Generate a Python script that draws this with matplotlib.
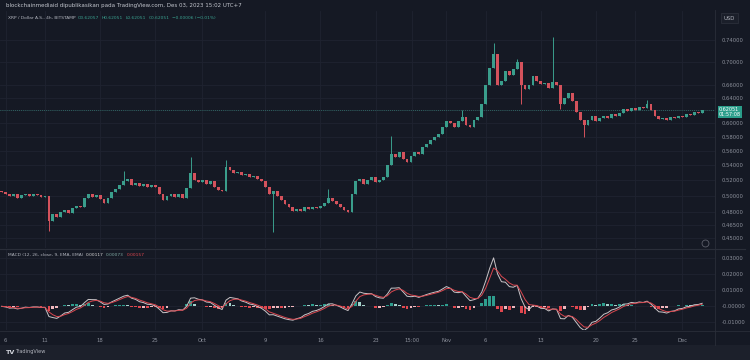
import numpy as np
import pandas as pd
import matplotlib
matplotlib.use("Agg")
import matplotlib.pyplot as plt
import matplotlib.dates as mdates
from matplotlib.lines import Line2D
from matplotlib.patches import Rectangle

# ---------------- data (12h candles) ----------------
start_time = "2023-09-05 12:00"
first_open = 0.506
closes = [
    0.505, 0.503, 0.500, 0.502, 0.498, 0.501, 0.503, 0.500, 0.502, 0.501, 0.499, 0.500,
    0.470,
    0.478, 0.474, 0.480, 0.483, 0.479, 0.485, 0.488, 0.486,
    0.497, 0.503,
    0.499, 0.501, 0.496, 0.492,
    0.498, 0.505, 0.509, 0.514, 0.519, 0.522,
    0.514, 0.517, 0.513, 0.515, 0.512, 0.514, 0.511,
    0.503, 0.495,
    0.500, 0.503, 0.499, 0.502, 0.498,
    0.510, 0.530,
    0.521, 0.518, 0.520, 0.516, 0.519,
    0.512, 0.508, 0.506,
    0.538,
    0.534, 0.530, 0.531, 0.527, 0.528, 0.525, 0.526, 0.522, 0.519,
    0.512, 0.503,
    0.507,
    0.500, 0.495, 0.490, 0.486, 0.482,
    0.484, 0.482, 0.486, 0.484, 0.487, 0.485, 0.488,
    0.492, 0.497, 0.494,
    0.490, 0.487, 0.483, 0.480,
    0.503, 0.519,
    0.522, 0.516, 0.520, 0.524, 0.518, 0.521,
    0.524, 0.540, 0.556, 0.552, 0.558, 0.549, 0.545, 0.553, 0.558, 0.556, 0.565, 0.570,
    0.575, 0.580, 0.585,
    0.595, 0.604, 0.600, 0.595, 0.603, 0.610, 0.598, 0.594, 0.605, 0.610,
    0.630, 0.660, 0.690, 0.715,
    0.660, 0.668, 0.685, 0.678, 0.688, 0.700,
    0.660, 0.655, 0.660, 0.676,
    0.668, 0.662, 0.664, 0.656, 0.665, 0.660,
    0.630, 0.640, 0.648, 0.635, 0.618, 0.605,
    0.598, 0.605, 0.612, 0.603, 0.608, 0.612, 0.609, 0.614, 0.612, 0.616,
    0.622, 0.619, 0.624, 0.621, 0.626, 0.624, 0.630,
    0.620, 0.612, 0.606, 0.609, 0.605,
    0.610, 0.608, 0.612, 0.610, 0.614, 0.613, 0.617, 0.616, 0.620,
]
spike_high_idx = [31, 48, 57, 83, 99, 117, 125, 131, 140, 164]
spike_high_val = [0.532, 0.552, 0.548, 0.509, 0.581, 0.620, 0.735, 0.705, 0.745, 0.636]
spike_low_idx = [12, 69, 132, 142, 148]
spike_low_val = [0.458, 0.457, 0.630, 0.622, 0.580]

price_ticks = [0.74, 0.70, 0.66, 0.64, 0.62, 0.60, 0.58, 0.56, 0.54, 0.52, 0.50, 0.48, 0.465, 0.45]
price_tick_labels = ["0.74000", "0.70000", "0.66000", "0.64000", "", "0.60000", "0.58000",
                     "0.56000", "0.54000", "0.52000", "0.50000", "0.48000", "0.46500", "0.45000"]
macd_ticks = [0.03, 0.02, 0.01, 0.0, -0.01]
macd_tick_labels = ["0.03000", "0.02000", "0.01000", "-0.00000", "-0.01000"]
date_ticks = ["2023-09-06 00:00", "2023-09-11 00:00", "2023-09-18 00:00", "2023-09-25 00:00",
              "2023-10-01 00:00", "2023-10-09 00:00", "2023-10-16 00:00", "2023-10-23 00:00",
              "2023-10-27 15:00", "2023-11-01 00:00", "2023-11-06 00:00", "2023-11-13 00:00",
              "2023-11-20 00:00", "2023-11-25 00:00", "2023-12-01 00:00"]
date_tick_labels = ["6", "11", "18", "25", "Oct", "9", "16", "23", "15:00", "Nov", "6", "13", "20", "25", "Dec"]

# ---------------- derived ----------------
closes_a = np.array(closes)
opens_a = np.concatenate([[first_open], closes_a[:-1]])
highs_a = np.maximum(opens_a, closes_a)
lows_a = np.minimum(opens_a, closes_a)
for i, v in zip(spike_high_idx, spike_high_val):
    highs_a[i] = max(highs_a[i], v)
for i, v in zip(spike_low_idx, spike_low_val):
    lows_a[i] = min(lows_a[i], v)
times = pd.date_range(start_time, periods=len(closes), freq="12h")
xs = mdates.date2num(times)
tick_x = mdates.date2num(pd.to_datetime(date_ticks, format="%Y-%m-%d %H:%M"))

s = pd.Series(closes_a)
fast = s.ewm(span=12 / 3, adjust=False).mean()
slow = s.ewm(span=26 / 3, adjust=False).mean()
macd = (fast - slow).values
signal = pd.Series(macd).ewm(span=9 / 3, adjust=False).mean().values
hist = macd - signal

# ---------------- style ----------------
BG = "#151924"
GRID = "#1f2330"
TXT = "#8c909b"
UP = "#3a9e8c"
DN = "#d4525c"
FS = 3.8
FS_LEG = 3.2

W, H = 750, 360
plt.rcParams["font.family"] = ["DejaVu Sans"]
fig = plt.figure(figsize=(7.5, 3.6), dpi=100, facecolor=BG)

def fx(px):
    return px / W

def fy(py):
    return 1 - py / H

fig.add_artist(Rectangle((0, 0), 1, fy(345), transform=fig.transFigure, fc="#1c202b", ec="none", zorder=0))

ax = fig.add_axes([0, fy(248), fx(715), (248 - 11) / H], facecolor=BG)
ax2 = fig.add_axes([0, fy(330), fx(715), (330 - 249) / H], facecolor=BG)

xmin = mdates.date2num(pd.Timestamp("2023-09-05 06:46"))
xmax = mdates.date2num(pd.Timestamp("2023-12-05 03:10"))

# candles
col = np.where(closes_a >= opens_a, UP, DN)
ax.vlines(xs, lows_a, highs_a, colors=col, lw=0.7, zorder=3)
body_h = np.maximum(np.abs(closes_a - opens_a), 0.0008)
ax.bar(xs, body_h, bottom=np.minimum(opens_a, closes_a), width=0.36, color=col, lw=0, zorder=4)
ax.axhline(closes_a[-1], color=UP, lw=0.5, ls=(0, (1, 2)), zorder=2)

ax.set_yscale("log")
ax.set_ylim(0.4389, 0.7957)
ax.set_xlim(xmin, xmax)
ax.yaxis.tick_right()
ax.set_yticks(price_ticks)
ax.set_yticklabels(price_tick_labels)
ax.yaxis.set_minor_locator(matplotlib.ticker.NullLocator())
ax.tick_params(axis="y", which="both", length=0, pad=5, labelsize=FS, labelcolor=TXT)
ax.set_xticks(tick_x)
ax.tick_params(axis="x", length=0, labelbottom=False)
ax.grid(True, color=GRID, lw=0.6)
for sp in ax.spines.values():
    sp.set_visible(False)

# MACD
hist_col = []
for i, h in enumerate(hist):
    prev = hist[i - 1] if i > 0 else 0
    if h >= 0:
        hist_col.append("#2e9e8e" if h >= prev else "#a5d2cb")
    else:
        hist_col.append("#e0474f" if h <= prev else "#f0b7bd")
ax2.bar(xs, hist, width=0.36, color=hist_col, lw=0, zorder=3)
ax2.plot(xs, macd, color="#c9c5c8", lw=0.7, zorder=4)
ax2.plot(xs, signal, color="#d9474f", lw=0.7, zorder=4)
ax2.set_ylim(-0.0147, 0.0356)
ax2.set_xlim(xmin, xmax)
ax2.yaxis.tick_right()
ax2.set_yticks(macd_ticks)
ax2.set_yticklabels(macd_tick_labels)
ax2.tick_params(axis="y", length=0, pad=5, labelsize=FS, labelcolor=TXT)
ax2.set_xticks(tick_x)
ax2.set_xticklabels(date_tick_labels)
ax2.tick_params(axis="x", length=0, pad=6, labelsize=FS, labelcolor=TXT)
ax2.grid(True, color=GRID, lw=0.6)
for sp in ax2.spines.values():
    sp.set_visible(False)

# separators
fig.add_artist(Line2D([0, fx(745)], [fy(248.5), fy(248.5)], transform=fig.transFigure, color="#2a2e39", lw=0.8))
fig.add_artist(Line2D([fx(715), fx(715)], [fy(345), fy(10)], transform=fig.transFigure, color="#2a2e39", lw=0.6))
fig.add_artist(Line2D([0, fx(750)], [fy(330.5), fy(330.5)], transform=fig.transFigure, color="#2a2e39", lw=0.6))

# ---- text rows placed one after another ----
fig.canvas.draw()
renderer = fig.canvas.get_renderer()

def text_row(x0, y, parts, gap=2.5):
    x = x0
    for t, c in parts:
        tt = fig.text(fx(x), fy(y), t, fontsize=FS_LEG, color=c, va="center", ha="left")
        bb = tt.get_window_extent(renderer)
        x = bb.x1 + gap

fig.text(fx(6), fy(5), "blockchainmediaid dipublikasikan pada TradingView.com, Des 03, 2023 15:02 UTC+7",
         fontsize=4.0, color="#c3c6ce", va="center", ha="left")
text_row(8, 18, [("XRP / Dollar A.S., 4h, BITSTAMP", "#b2b5be"), ("O0.62057", "#3aa08f"),
                 ("H0.62051", "#3aa08f"), ("L0.62051", "#3aa08f"), ("C0.62051", "#3aa08f"),
                 ("\u22120.00006 (\u22120.01%)", "#3aa08f")])
text_row(8, 255, [("MACD (12, 26, close, 9, EMA, EMA)", "#b2b5be"), ("0.00117", "#d8d8d8"),
                  ("0.00073", "#7fa9a3"), ("0.00157", "#e0474f")])

# price box and USD box
fig.text(fx(719), fy(112), "0.62051\n01:57:08", fontsize=3.5, color="white", va="center", ha="left",
         linespacing=1.1, bbox=dict(boxstyle="square,pad=0.25", fc="#2a9d8a", ec="none"), zorder=10)
fig.text(fx(724), fy(18), "USD", fontsize=FS, color="#b2b5be", va="center", ha="left",
         bbox=dict(boxstyle="square,pad=0.5", fc="#1b1f2a", ec="#2a2e39", lw=0.6))
fig.add_artist(Line2D([fx(705)], [fy(243)], marker="o", ms=5, mfc="none", mec="#5d606b", mew=0.6,
                      transform=fig.transFigure))

# TradingView footer
fig.text(fx(6), fy(352), "TV", fontsize=4.6, color="#d1d4dc", weight="bold", va="center")
fig.text(fx(15), fy(352), "TradingView", fontsize=3.6, color="#b2b5be", va="center")

fig.savefig("out.png", dpi=100, facecolor=BG)
